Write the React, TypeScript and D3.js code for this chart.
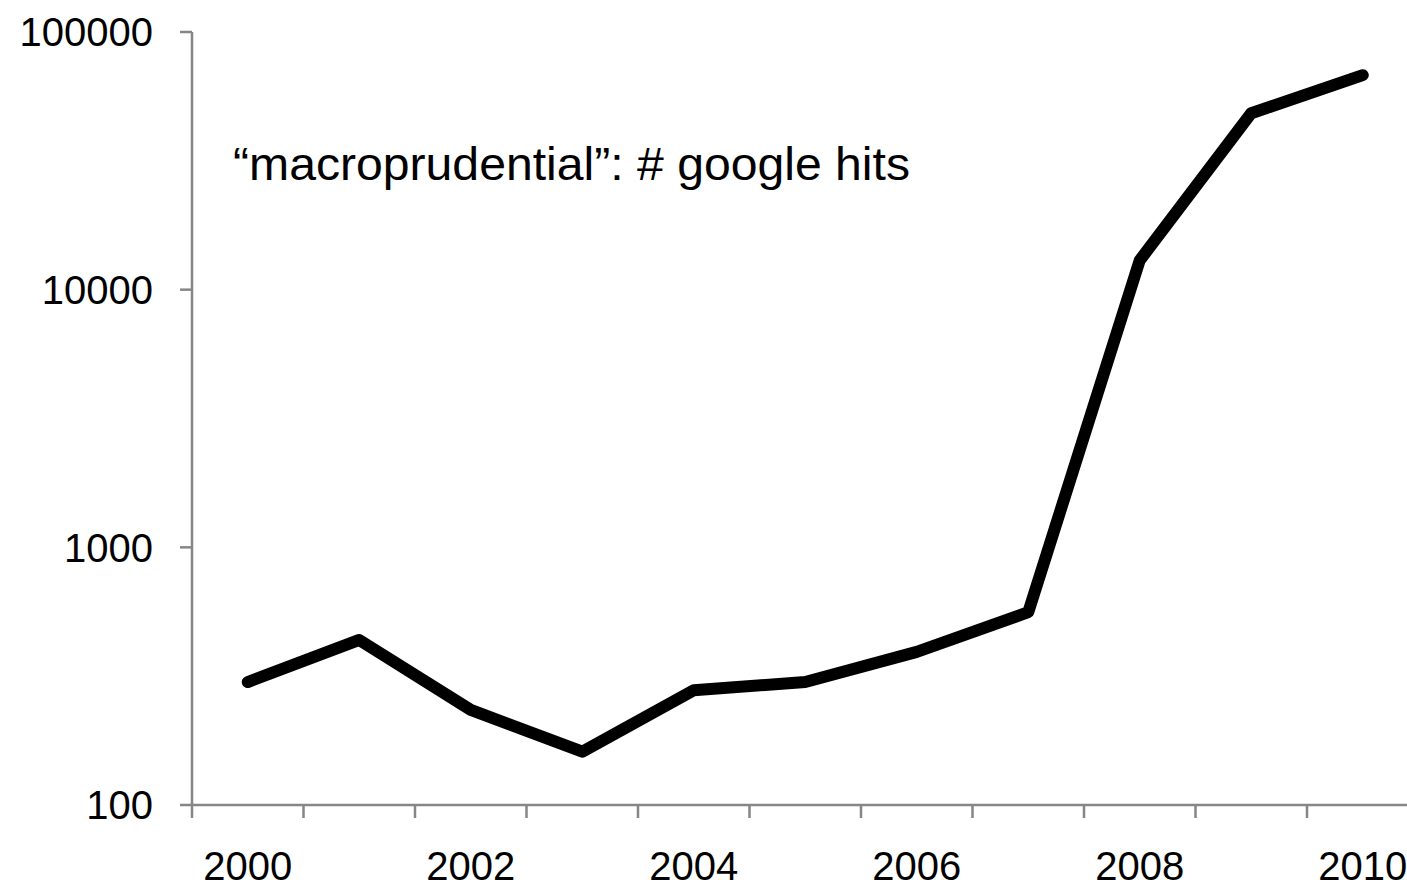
import React, { useRef, useEffect } from 'react';
import * as d3 from 'd3';

const years = [2000, 2001, 2002, 2003, 2004, 2005, 2006, 2007, 2008, 2009, 2010];
const hits = [300, 437, 234, 161, 279, 300, 393, 560, 13000, 48400, 68000];
const yTicks = [100, 1000, 10000, 100000];
const title = '\u201cmacroprudential\u201d: # google hits';

const App = () => {
    const svgRef = useRef(null);

    useEffect(() => {
        const svg = d3.select(svgRef.current);
        svg.selectAll('*').remove();

        const width = 1407;
        const height = 887;
        const left = 192;
        const top = 32;
        const bottom = 805;
        const step = 111.5;

        svg.attr('width', width).attr('height', height).style('background', '#fff');

        const x = d3.scaleBand()
            .domain(years.map(String))
            .range([left, left + step * years.length])
            .padding(0);

        const y = d3.scaleLog()
            .domain([100, 100000])
            .range([bottom, top]);

        const axisColor = '#868686';
        const font = "'Liberation Sans', Arial, sans-serif";

        // y axis
        svg.append('line')
            .attr('x1', left).attr('x2', left)
            .attr('y1', top).attr('y2', bottom)
            .attr('stroke', axisColor).attr('stroke-width', 2.5);

        svg.selectAll('.ytick')
            .data(yTicks)
            .enter()
            .append('line')
            .attr('x1', left - 12).attr('x2', left)
            .attr('y1', d => y(d)).attr('y2', d => y(d))
            .attr('stroke', axisColor).attr('stroke-width', 2.5);

        svg.selectAll('.ylabel')
            .data(yTicks)
            .enter()
            .append('text')
            .attr('x', 153)
            .attr('y', d => y(d))
            .attr('dy', '0.36em')
            .attr('text-anchor', 'end')
            .attr('font-family', font)
            .attr('font-size', 40)
            .attr('fill', '#000')
            .text(d => String(d));

        // x axis
        svg.append('line')
            .attr('x1', left).attr('x2', width)
            .attr('y1', bottom).attr('y2', bottom)
            .attr('stroke', axisColor).attr('stroke-width', 2.5);

        svg.selectAll('.xtick')
            .data(years)
            .enter()
            .append('line')
            .attr('x1', d => x(String(d)))
            .attr('x2', d => x(String(d)))
            .attr('y1', bottom).attr('y2', bottom + 13)
            .attr('stroke', axisColor).attr('stroke-width', 2.5);

        svg.selectAll('.xlabel')
            .data(years.filter(d => d % 2 === 0))
            .enter()
            .append('text')
            .attr('x', d => x(String(d)) + x.bandwidth() / 2)
            .attr('y', 880)
            .attr('text-anchor', 'middle')
            .attr('font-family', font)
            .attr('font-size', 40)
            .attr('fill', '#000')
            .text(d => String(d));

        // series line
        const line = d3.line()
            .x((d, i) => x(String(years[i])) + x.bandwidth() / 2)
            .y(d => y(d));

        svg.append('path')
            .datum(hits)
            .attr('d', line)
            .attr('fill', 'none')
            .attr('stroke', '#000')
            .attr('stroke-width', 12)
            .attr('stroke-linejoin', 'round')
            .attr('stroke-linecap', 'round');

        // annotation
        svg.append('text')
            .attr('x', 233)
            .attr('y', 180)
            .attr('font-family', font)
            .attr('font-size', 46)
            .attr('textLength', 677)
            .attr('lengthAdjust', 'spacingAndGlyphs')
            .attr('fill', '#000')
            .text(title);
    }, []);

    return <svg ref={svgRef} style={{ position: 'absolute', left: 0, top: 0 }}></svg>;
};

export default App;
